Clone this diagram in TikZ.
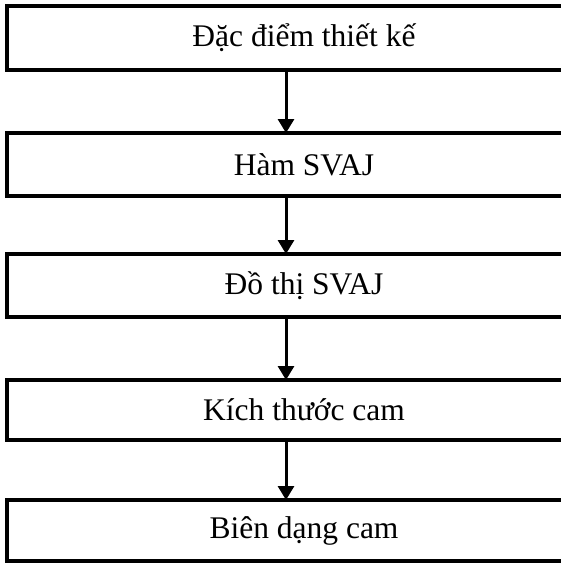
\documentclass[tikz,border=0pt]{standalone}
\usepackage{fontspec}
\setmainfont{Liberation Serif}
\usetikzlibrary{arrows.meta}
\begin{document}
\begin{tikzpicture}[x=1pt,y=-1pt,
  stepbox/.style={draw, line width=3.2pt, outer sep=0pt, inner sep=0pt,
    minimum width=594pt, font=\fontsize{31.5}{37}\selectfont},
  arr/.style={line width=3pt, -{Triangle[width=16pt,length=14pt]}}]
\clip (0,0) rectangle (561,563);
\fill[white] (0,0) rectangle (561,563);
\node[stepbox, minimum height=64pt] (b1) at (304,38) {Đặc điểm thiết kế};
\node[stepbox, minimum height=63pt] (b2) at (304,164.5) {Hàm SVAJ};
\node[stepbox, minimum height=63pt] (b3) at (304,285.5) {Đồ thị SVAJ};
\node[stepbox, minimum height=60pt] (b4) at (304,410) {Kích thước cam};
\node[stepbox, minimum height=61pt] (b5) at (304,530.5) {Biên dạng cam};
\coordinate (ax) at (286,0);
\draw[arr] (b1.south -| ax) -- (b2.north -| ax);
\draw[arr] (b2.south -| ax) -- (b3.north -| ax);
\draw[arr] (b3.south -| ax) -- (b4.north -| ax);
\draw[arr] (b4.south -| ax) -- (b5.north -| ax);
\end{tikzpicture}
\end{document}
